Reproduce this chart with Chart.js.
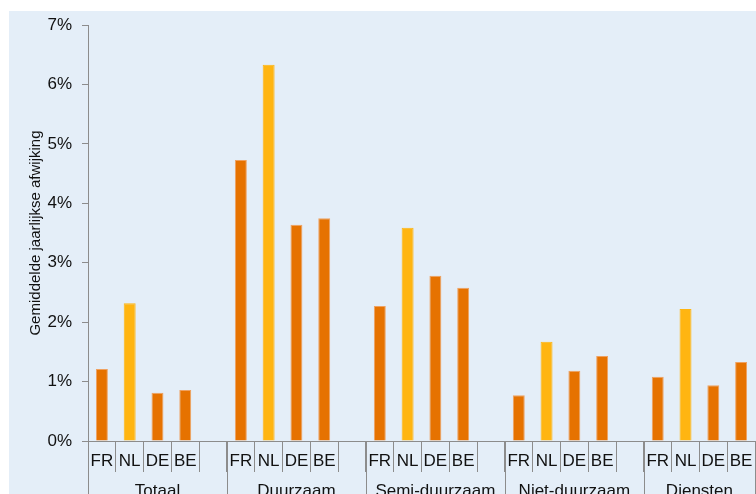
<!DOCTYPE html>
<html>
<head>
<meta charset="utf-8">
<script src="https://cdn.jsdelivr.net/npm/chart.js@4"></script>
<style>
html,body{margin:0;padding:0;background:#fff;}
canvas{display:block;}
</style>
</head>
<body>
<canvas id="c" width="756" height="494"></canvas>
<script>
const countries = ['FR', 'NL', 'DE', 'BE'];
const groups = ['Totaal', 'Duurzaam', 'Semi-duurzaam', 'Niet-duurzaam', 'Diensten'];
const totaal = [1.21, 2.32, 0.81, 0.86];
const duurzaam = [4.73, 6.33, 3.64, 3.75];
const semiDuurzaam = [2.27, 3.59, 2.78, 2.58];
const nietDuurzaam = [0.77, 1.67, 1.18, 1.43];
const diensten = [1.08, 2.22, 0.94, 1.33];
const yTicks = [0, 1, 2, 3, 4, 5, 6, 7];
const yTitle = 'Gemiddelde jaarlijkse afwijking';

const groupValues = [totaal, duurzaam, semiDuurzaam, nietDuurzaam, diensten];
const labels = [], values = [], groupStarts = [];
groupValues.forEach((vals, gi) => {
  groupStarts.push(labels.length);
  countries.forEach((c, ci) => { labels.push(c); values.push(vals[ci]); });
  if (gi < groupValues.length - 1) { labels.push(''); values.push(null); }
});
groupStarts.push(labels.length);

const ORANGE = '#E67200', YELLOW = '#FFB511';
const colors = labels.map(l => l === 'NL' ? YELLOW : ORANGE);
const borders = labels.map(l => l === 'NL' ? YELLOW : '#EFA160');
const AXIS = '#8c8c8c';
const FONT = '"Liberation Sans", Arial, sans-serif';

const bgPlugin = {
  id: 'bg',
  beforeDraw(chart) {
    const ctx = chart.ctx;
    ctx.save();
    ctx.fillStyle = '#fff';
    ctx.fillRect(0, 0, chart.width, chart.height);
    ctx.fillStyle = '#E4EEF8';
    ctx.fillRect(9, 11, chart.width - 9, chart.height - 11);
    ctx.restore();
  }
};

const groupPlugin = {
  id: 'groups',
  afterDraw(chart) {
    const xs = chart.scales.x;
    const ctx = chart.ctx;
    const half = (xs.getPixelForValue(1) - xs.getPixelForValue(0)) / 2;
    const bound = i => i < labels.length ? xs.getPixelForValue(i) - half : xs.getPixelForValue(labels.length - 1) + half;
    const top = chart.chartArea.bottom;
    ctx.save();
    ctx.strokeStyle = AXIS;
    ctx.lineWidth = 1;
    groupStarts.forEach(i => {
      const x = Math.round(bound(i)) + 0.5;
      ctx.beginPath();
      ctx.moveTo(x, top);
      ctx.lineTo(x, chart.height);
      ctx.stroke();
    });
    ctx.fillStyle = '#111';
    ctx.font = '17px ' + FONT;
    ctx.textAlign = 'center';
    ctx.textBaseline = 'alphabetic';
    groups.forEach((g, gi) => {
      const a = bound(groupStarts[gi]);
      const bb = gi < groups.length - 1 ? bound(groupStarts[gi + 1]) : bound(groupStarts[gi] + countries.length);
      ctx.fillText(g, (a + bb) / 2, 496);
    });
    ctx.restore();
  }
};

new Chart(document.getElementById('c'), {
  type: 'bar',
  data: {
    labels: labels,
    datasets: [{
      data: values,
      backgroundColor: colors,
      borderColor: borders,
      borderWidth: 1,
      categoryPercentage: 1,
      barPercentage: 0.43
    }]
  },
  options: {
    responsive: false,
    animation: false,
    layout: { padding: { top: 25, right: 1, left: 0, bottom: 0 } },
    plugins: { legend: { display: false }, tooltip: { enabled: false } },
    scales: {
      x: {
        offset: true,
        grid: { offset: true, drawOnChartArea: false, drawTicks: true, tickLength: 31, color: AXIS },
        border: { color: AXIS },
        ticks: { color: '#111', font: { family: FONT, size: 17 }, padding: -21, maxRotation: 0, autoSkip: false },
        afterFit(s) { s.height = 53; }
      },
      y: {
        min: 0, max: 7,
        afterBuildTicks(s) { s.ticks = yTicks.map(v => ({ value: v })); },
        grid: { drawOnChartArea: false, drawTicks: true, tickLength: 6, color: AXIS },
        border: { color: AXIS },
        ticks: { color: '#111', font: { family: FONT, size: 17 }, padding: 10, callback: v => v + '%' },
        title: { display: true, text: yTitle, color: '#111', font: { family: FONT, size: 15 }, padding: { top: 27, bottom: 0 } },
        afterFit(s) { s.width = 88; }
      }
    }
  },
  plugins: [bgPlugin, groupPlugin]
});
</script>
</body>
</html>
